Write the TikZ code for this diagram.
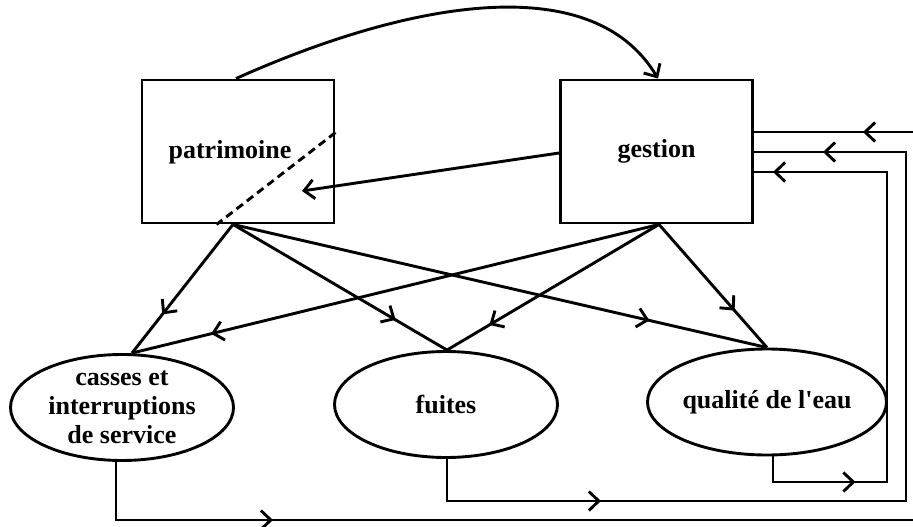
\documentclass[tikz,border=0pt]{standalone}
\usepackage{fontspec}
\newfontfamily\lbfont{Liberation Serif}
\usetikzlibrary{arrows.meta,shapes.geometric,decorations.markings,calc}
\begin{document}
\begin{tikzpicture}[x=1pt,y=-1pt,
  line width=2.9pt,
  >={Straight Barb[length=10pt,width=19pt,line width=2.9pt]},
  lbl/.style={font=\lbfont\fontsize{26}{29}\selectfont\bfseries},
  box/.style={draw,rectangle,minimum width=192pt,minimum height=143pt,inner sep=0pt},
  oval/.style={draw,ellipse,minimum width=223pt,minimum height=106pt,inner sep=0pt,align=center},
  midarrow/.style={postaction={decorate},decoration={markings,mark=at position #1 with {\arrow{>}}}},
  twoarrows/.style 2 args={postaction={decorate},decoration={markings,mark=at position #1 with {\arrow{>}},mark=at position #2 with {\arrow{>}}}}
]
\useasboundingbox (0,0) rectangle (913,527);
\clip (0,0) rectangle (913,527);
\node[box,label={[lbl,xshift=-8pt,yshift=-1pt]center:patrimoine}] (patr) at (238,151.5) {};
\node[box,lbl] (gest) at (656.5,151.5) {gestion};
\node[oval,lbl] (casses) at (122,407.5) {casses et\\interruptions\\de service};
\node[oval,lbl] (fuites) at (446,404.5) {fuites};
\node[oval,lbl] (qual) at (767,402) {qualité de l'eau};

\coordinate (pb) at ($(patr.south)+(-5,0)$);
\coordinate (gb) at ($(gest.south)+(2.5,0)$);
\coordinate (ct) at ($(casses.north)+(10,0)$);
\coordinate (ft) at ($(fuites.north)+(1,0)$);
\coordinate (qt) at (qual.north);

\draw[midarrow=0.7] (pb) -- (ct);
\draw[midarrow=0.76] (pb) -- (ft);
\draw[midarrow=0.78] (pb) -- (qt);
\draw[midarrow=0.85] (gb) -- (ct);
\draw[midarrow=0.8] (gb) -- (ft);
\draw[midarrow=0.7] (gb) -- (qt);

% curved arrow patrimoine -> gestion
\coordinate (ptop) at ($(patr.north)+(-2,0)$);
\coordinate (gtop) at ($(gest.north)+(1.5,0)$);
\draw[->] (ptop) .. controls (400,5) and (590,-35) .. (gtop);

% gestion -> patrimoine
\coordinate (gp) at (302,191);
\draw[->] ($(gest.west)+(0,1.5)$) -- (gp);

% dashed line in patrimoine
\coordinate (d1) at ($(patr.north east)+(0,54)$);
\coordinate (d2) at ($(patr.south west)+(76,0)$);
\draw[dash pattern=on 8pt off 5pt] (d1) -- (d2);

% feedback loops
\coordinate (cs) at ($(casses.south)+(-6,0)$);
\coordinate (fs) at ($(fuites.south)+(1,0)$);
\coordinate (qs) at ($(qual.south)+(6,0)$);
\coordinate (g1) at ($(gest.east)+(0,-19.5)$);
\coordinate (g2) at ($(gest.east)+(0,0.5)$);
\coordinate (g3) at ($(gest.east)+(0,20.5)$);
\coordinate (c1) at (918,520);
\coordinate (f1) at (906,501);
\coordinate (q1) at (887,482);
\draw[twoarrows={215pt}{-109pt}] (cs) |- (c1) |- (g1);
\draw[twoarrows={196pt}{-69pt}] (fs) |- (f1) |- (g2);
\draw[twoarrows={108pt}{-19pt}] (qs) |- (q1) |- (g3);
\end{tikzpicture}
\end{document}
